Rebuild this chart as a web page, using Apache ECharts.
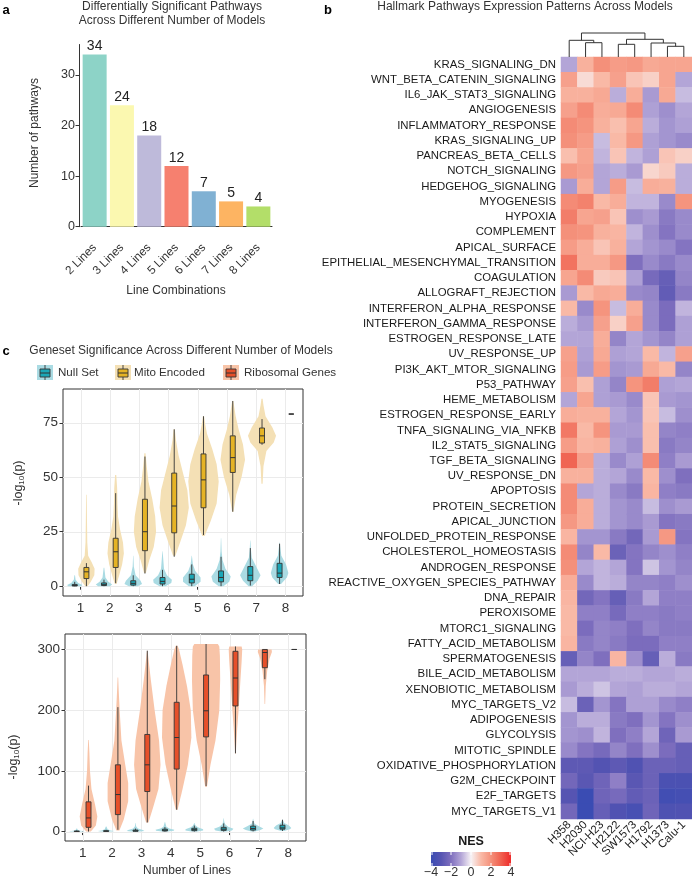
<!DOCTYPE html>
<html><head><meta charset="utf-8">
<script src="https://cdn.jsdelivr.net/npm/echarts@6/dist/echarts.min.js"></script>
<style>html,body{margin:0;padding:0;background:#fff}#c{width:692px;height:880px}</style>
</head><body><div id="c"></div>
<script>
const FONT = '"Liberation Sans", Arial, Helvetica, sans-serif';

// ---------- Panel a data ----------
const lineCombos = ['2 Lines','3 Lines','4 Lines','5 Lines','6 Lines','7 Lines','8 Lines'];
const pathwayCounts = [34, 24, 18, 12, 7, 5, 4];
const countTicks = [0, 10, 20, 30];
const comboColors = ['#8DD3C7','#FBF8B0','#BEBADA','#F6806F','#80B1D3','#FDB462','#B3DE69'];

// ---------- Panel b data ----------
const cellLines = ['H358','H2030','NCI-H23','H2122','SW1573','H1792','H1373','Calu-1'];
const pathways = ['KRAS_SIGNALING_DN','WNT_BETA_CATENIN_SIGNALING','IL6_JAK_STAT3_SIGNALING','ANGIOGENESIS',
 'INFLAMMATORY_RESPONSE','KRAS_SIGNALING_UP','PANCREAS_BETA_CELLS','NOTCH_SIGNALING','HEDGEHOG_SIGNALING',
 'MYOGENESIS','HYPOXIA','COMPLEMENT','APICAL_SURFACE','EPITHELIAL_MESENCHYMAL_TRANSITION','COAGULATION',
 'ALLOGRAFT_REJECTION','INTERFERON_ALPHA_RESPONSE','INTERFERON_GAMMA_RESPONSE','ESTROGEN_RESPONSE_LATE',
 'UV_RESPONSE_UP','PI3K_AKT_MTOR_SIGNALING','P53_PATHWAY','HEME_METABOLISM','ESTROGEN_RESPONSE_EARLY',
 'TNFA_SIGNALING_VIA_NFKB','IL2_STAT5_SIGNALING','TGF_BETA_SIGNALING','UV_RESPONSE_DN','APOPTOSIS',
 'PROTEIN_SECRETION','APICAL_JUNCTION','UNFOLDED_PROTEIN_RESPONSE','CHOLESTEROL_HOMEOSTASIS',
 'ANDROGEN_RESPONSE','REACTIVE_OXYGEN_SPECIES_PATHWAY','DNA_REPAIR','PEROXISOME','MTORC1_SIGNALING',
 'FATTY_ACID_METABOLISM','SPERMATOGENESIS','BILE_ACID_METABOLISM','XENOBIOTIC_METABOLISM','MYC_TARGETS_V2',
 'ADIPOGENESIS','GLYCOLYSIS','MITOTIC_SPINDLE','OXIDATIVE_PHOSPHORYLATION','G2M_CHECKPOINT','E2F_TARGETS',
 'MYC_TARGETS_V1'];
const nes = [
 [-1.0, 1.2, 2.0, 1.7, 1.8, 1.4, 1.5, 1.5],
 [ 1.6, 0.4, 1.0, 1.6, 0.8, 0.6, 1.5,-1.0],
 [ 1.2, 1.2, 1.4,-0.9, 1.3,-1.2, 1.4,-0.7],
 [ 1.6, 2.1, 1.3, 1.4, 2.1,-1.1,-1.4,-1.0],
 [ 2.1, 1.9, 1.2, 0.9, 1.5,-0.9,-1.3,-1.1],
 [ 2.0, 1.7,-0.7, 1.0, 1.8,-1.1,-1.3,-1.5],
 [ 0.9, 1.5,-0.8, 0.8,-0.8,-1.1, 0.8, 0.6],
 [ 1.8, 1.6,-1.0,-0.9,-1.2, 0.5, 0.7,-0.9],
 [-1.2, 1.3,-1.0, 1.7,-0.7, 1.3, 1.2,-0.9],
 [ 2.1, 2.3, 1.0, 1.3,-0.8,-0.8,-1.5, 1.9],
 [ 2.4, 1.5, 1.6, 0.8,-1.4,-1.2,-1.8,-1.5],
 [ 2.0, 1.9, 1.2, 1.1,-0.8,-1.4,-1.9,-1.5],
 [ 1.7, 1.3, 0.8, 1.2,-1.0,-1.3,-1.5,-1.9],
 [ 2.6, 1.3, 1.3, 1.8,-2.0,-1.5,-1.8,-1.5],
 [ 1.5, 2.1, 0.7, 0.8,-1.1,-2.2,-2.6,-1.6],
 [-1.2, 1.0, 1.4, 1.3,-1.5,-1.6,-2.7,-1.8],
 [ 1.0,-1.5, 1.9,-0.7, 1.3,-1.5,-2.1,-0.8],
 [-0.9,-1.2, 1.6, 0.6, 1.6,-1.5,-2.1,-1.1],
 [-1.0,-1.0, 1.3,-1.6,-1.0,-1.3,-1.6,-1.1],
 [ 1.6,-1.1, 1.4,-1.1,-1.0, 1.0,-0.8, 1.6],
 [ 1.7,-1.2, 1.7,-1.3,-1.2, 1.4, 1.0,-1.6],
 [ 1.6, 0.9,-1.1,-1.6, 1.9, 2.4,-1.1,-1.0],
 [-1.0, 1.5,-1.1,-1.2,-1.5, 0.8,-1.2,-1.3],
 [ 1.3, 1.2, 1.2,-1.0,-1.3, 0.8,-0.7,-1.4],
 [ 2.5, 1.0, 1.9,-1.2,-1.2, 0.9,-1.6,-1.7],
 [ 1.7, 1.1, 1.2,-1.1,-1.4, 0.9,-1.8,-1.6],
 [ 2.9, 1.6,-0.9,-1.5,-1.1, 2.1,-1.7,-1.2],
 [ 1.2, 1.2,-0.9,-1.0,-1.5, 1.0,-1.4,-2.0],
 [ 2.1,-1.0,-0.9,-1.5,-1.8, 1.1,-1.7,-1.8],
 [ 2.1, 1.3,-0.9,-1.3,-1.5,-0.7,-1.4,-1.2],
 [ 1.8, 1.3,-0.9,-1.3,-1.5,-1.2,-1.9,-1.8],
 [ 1.1,-1.3,-1.3,-1.8,-2.3,-1.2, 1.8,-1.9],
 [ 2.1,-1.6, 1.0,-2.5,-1.9,-1.6,-1.4,-1.7],
 [ 2.0,-1.0,-0.8,-1.0,-1.9,-0.6,-1.3,-1.6],
 [ 1.3,-1.5,-0.8,-0.9,-1.6,-1.6,-1.7,-1.4],
 [ 1.1,-2.3,-1.9,-2.6,-1.8,-1.0,-1.7,-1.7],
 [ 1.0,-1.7,-1.7,-2.2,-1.7,-1.7,-1.8,-1.7],
 [ 1.0,-2.1,-1.6,-1.7,-2.0,-1.6,-1.8,-1.8],
 [ 1.1,-1.8,-1.6,-1.8,-2.1,-2.1,-1.7,-1.7],
 [-2.6,-1.6,-2.0, 1.1,-1.4,-2.6,-0.9,-1.8],
 [-1.0,-1.0,-1.0,-0.9,-0.9,-1.0,-1.0,-0.9],
 [-1.2,-0.9,-0.6,-1.0,-1.1,-0.9,-0.9,-1.0],
 [-0.7,-2.5,-1.3,-1.9,-1.1,-1.1,-1.5,-1.7],
 [-1.3,-0.9,-0.9,-1.8,-2.0,-1.3,-1.9,-1.4],
 [-1.3,-1.4,-0.8,-2.0,-1.7,-1.0,-2.4,-1.2],
 [-1.5,-1.9,-2.2,-1.6,-2.0,-1.4,-2.1,-2.6],
 [-2.8,-2.8,-3.1,-2.8,-3.2,-2.5,-2.5,-2.6],
 [-2.3,-2.9,-2.4,-1.7,-2.9,-2.5,-3.4,-3.4],
 [-3.0,-4.0,-2.4,-2.2,-2.7,-2.5,-3.7,-3.6],
 [-2.3,-4.0,-2.6,-3.2,-3.5,-2.4,-3.3,-3.2]
];
// dendrogram links: [xLeft, hLeft, xRight, hRight, mergeHeight] (x in column units)
const dendroLinks = [
 [1.5, 0, 2.5, 0, 14.3],
 [0.5, 0, 2.0, 14.3, 16.7],
 [3.5, 0, 4.5, 0, 12.7],
 [6.5, 0, 7.5, 0, 10.7],
 [5.5, 0, 7.0, 10.7, 14.0],
 [4.0, 12.7, 6.25, 14.0, 17.7],
 [1.25, 16.7, 5.125, 17.7, 24.0]
];
const nesTicks = [-4, -2, 0, 2, 4];
const nesColors = ['#3A4CB3','#5654B2','#7F6FBE','#B3A5D7','#F7F2F5','#F9B9A6','#F4907A','#F0604F','#EE2A2A'];

// ---------- Panel c data ----------
const numLines = [1, 2, 3, 4, 5, 6, 7, 8];
const topTicks = [0, 25, 50, 75];
const bottomTicks = [0, 100, 200, 300];
// box stats: [lowerWhisker, q1, median, q3, upperWhisker]
const nullBox = [[0,0.1,0.3,0.8,2],[0,0.3,0.7,1.5,3],[0,0.5,1.3,2.5,5],[0,1,2.2,4,7.5],
 [0,1.5,3.2,5.5,10],[0,2,4,7,13.5],[0.3,2.5,5,9,17.5],[1,4,6,10.5,19.5]];
// violin profiles: [value, halfWidth]
const nullViolin = [
 [[0,0.22],[0.5,0.26],[1.5,0.12],[3,0.03],[5,0.01]],
 [[0,0.2],[0.8,0.28],[2,0.15],[4,0.05],[8.5,0.01]],
 [[0,0.15],[1,0.3],[2.5,0.25],[5,0.08],[9,0.02],[14,0.005]],
 [[0,0.1],[1.5,0.3],[3,0.32],[5,0.15],[8,0.05],[16,0.005]],
 [[0,0.1],[2,0.3],[4,0.3],[7,0.12],[10,0.04],[14,0.005]],
 [[0,0.08],[2,0.28],[4.5,0.33],[8,0.15],[12,0.05],[16,0.02],[22,0.005]],
 [[0,0.06],[2.5,0.25],[5,0.35],[9,0.2],[13,0.05],[17,0.02],[21,0.005]],
 [[1,0.05],[4,0.25],[6,0.3],[10,0.22],[14,0.06],[20,0.005]]
];
const mitoBox = [[0,3.5,6.6,8.6,10.6],[1.4,8.6,15.8,22,42.7],[5.8,16.3,25,39.9,59.5],[13.5,24.5,36.8,51.9,72],
 [23.5,36,48.8,60.7,78],[34.2,52.2,59,69,85],[64.9,65.7,69,72.6,76.7],[79,79,79,79,79]];
const mitoViolin = [
 [[0,0.04],[2,0.15],[5,0.27],[8,0.28],[11,0.18],[14,0.06],[20,0.03],[30,0.02],[42,0.01]],
 [[1,0.03],[5,0.12],[10,0.22],[15,0.28],[20,0.25],[26,0.15],[32,0.08],[38,0.06],[45,0.05],[51,0.02]],
 [[6,0.03],[12,0.15],[18,0.3],[25,0.38],[32,0.35],[40,0.25],[48,0.12],[55,0.06],[61,0.02]],
 [[14,0.04],[20,0.2],[28,0.4],[36,0.5],[44,0.45],[52,0.3],[60,0.15],[67,0.06],[72,0.02]],
 [[23,0.04],[30,0.25],[38,0.45],[48,0.52],[56,0.45],[63,0.3],[70,0.12],[75,0.05],[78,0.02]],
 [[34,0.02],[42,0.12],[50,0.3],[58,0.42],[65,0.35],[72,0.2],[78,0.1],[85,0.02]],
 [[47,0.02],[55,0.05],[62,0.15],[66,0.4],[69,0.48],[73,0.35],[78,0.12],[83,0.05],[86,0.02]],
 []
];
const riboBox = [[0,7,22.5,49,75.7],[3,28,61,110,205],[15,66,110,160,298],[36,103,155,213,306],
 [75,156,199,258,309],[129,207,253,297,305],[251,270,295,300,300],[300,300,300,300,300]];
const riboViolin = [
 [[0,0.08],[10,0.25],[25,0.3],[45,0.22],[70,0.1],[100,0.05],[130,0.03],[151,0.01]],
 [[2,0.05],[20,0.2],[50,0.35],[80,0.35],[110,0.25],[150,0.12],[200,0.06],[230,0.03],[254,0.01]],
 [[15,0.04],[40,0.2],[70,0.38],[110,0.45],[150,0.4],[200,0.25],[250,0.12],[280,0.05],[298,0.01]],
 [[36,0.03],[70,0.2],[110,0.38],[155,0.5],[200,0.48],[240,0.35],[275,0.2],[300,0.08],[306,0.03]],
 [[74,0.03],[110,0.15],[150,0.32],[200,0.45],[250,0.48],[290,0.47],[305,0.45],[309,0.4]],
 [[128,0.01],[170,0.06],[210,0.12],[250,0.17],[280,0.21],[300,0.23],[305,0.21]],
 [[210,0.01],[240,0.03],[265,0.08],[285,0.16],[296,0.24],[300,0.23]],
 []
];

// ---------- chart ----------
const chart = echarts.init(document.getElementById('c'), null, {renderer: 'canvas', width: 692, height: 880});
const TXT = '#1a1a1a';

function violinSeries(gi, profiles, boxes, dodge, fill, boxFill) {
  return {
    type: 'custom', xAxisIndex: gi, yAxisIndex: gi, z: 3, silent: true,
    data: numLines.map((n, i) => [n, i]),
    renderItem(params, api) {
      const i = params.dataIndex;
      const cx = numLines[i] + dodge;
      const prof = profiles[i], b = boxes[i];
      const ch = [];
      if (prof && prof.length) {
        const right = prof.map(p => api.coord([cx + p[1], p[0]]));
        const left = prof.slice().reverse().map(p => api.coord([cx - p[1], p[0]]));
        ch.push({type: 'polygon', shape: {points: right.concat(left)}, style: {fill: fill}});
      }
      const bw = 0.085;
      const c = v => api.coord([cx, v]);
      const pMin = c(b[0]), pQ1 = c(b[1]), pMed = c(b[2]), pQ3 = c(b[3]), pMax = c(b[4]);
      const xl = api.coord([cx - bw, 0])[0], xr = api.coord([cx + bw, 0])[0];
      const ls = {stroke: '#333', lineWidth: 0.9};
      ch.push({type: 'line', shape: {x1: pMin[0], y1: pMin[1], x2: pQ1[0], y2: pQ1[1]}, style: ls});
      ch.push({type: 'line', shape: {x1: pQ3[0], y1: pQ3[1], x2: pMax[0], y2: pMax[1]}, style: ls});
      ch.push({type: 'rect', shape: {x: xl, y: pQ3[1], width: xr - xl, height: pQ1[1] - pQ3[1]},
        style: {fill: boxFill, stroke: '#333', lineWidth: 0.9}});
      ch.push({type: 'line', shape: {x1: xl, y1: pMed[1], x2: xr, y2: pMed[1]}, style: {stroke: '#333', lineWidth: 1}});
      return {type: 'group', children: ch};
    }
  };
}

function gridLineSeries(gi, yTicks) {
  const items = numLines.map(v => ['x', v]).concat(yTicks.map(v => ['y', v]));
  return {
    type: 'custom', xAxisIndex: gi, yAxisIndex: gi, z: 1, silent: true,
    data: items.map(() => [1, 0]),
    renderItem(params, api) {
      const d = items[params.dataIndex];
      const cs = params.coordSys;
      const st = {stroke: '#ebebeb', lineWidth: 1};
      if (d[0] === 'x') {
        const x = Math.round(api.coord([d[1], 0])[0]) + 0.5;
        return {type: 'line', shape: {x1: x, y1: cs.y, x2: x, y2: cs.y + cs.height}, style: st};
      }
      const y = Math.round(api.coord([1, d[1]])[1]) + 0.5;
      return {type: 'line', shape: {x1: cs.x, y1: y, x2: cs.x + cs.width, y2: y}, style: st};
    }
  };
}

const heatData = [];
nes.forEach((row, r) => row.forEach((v, c) => heatData.push([c, r, v])));

const cAxisLabel = {fontSize: 13.5, color: '#333', fontFamily: FONT};
function cXAxis(gi) {
  return {gridIndex: gi, type: 'value', min: 0.4, max: 8.6,
    axisLine: {show: false}, splitLine: {show: false},
    axisTick: {show: true, customValues: numLines, length: 3.5, lineStyle: {color: '#333'}},
    axisLabel: Object.assign({customValues: numLines, margin: 5}, cAxisLabel)};
}
function cYAxis(gi, min, max, ticks) {
  return {gridIndex: gi, type: 'value', min: min, max: max,
    axisLine: {show: false}, splitLine: {show: false},
    axisTick: {show: true, customValues: ticks, length: 3.5, lineStyle: {color: '#333'}},
    axisLabel: Object.assign({customValues: ticks, margin: 5}, cAxisLabel)};
}

function legendKey(x, fill, boxFill) {
  return [
    {type: 'rect', shape: {x: x, y: 365, width: 16, height: 15}, style: {fill: fill}},
    {type: 'line', shape: {x1: x + 8, y1: 365, x2: x + 8, y2: 380}, style: {stroke: '#333', lineWidth: 0.9}},
    {type: 'rect', shape: {x: x + 3, y: 369, width: 10, height: 8}, style: {fill: boxFill, stroke: '#333', lineWidth: 0.9}},
    {type: 'line', shape: {x1: x + 3, y1: 373, x2: x + 13, y2: 373}, style: {stroke: '#333', lineWidth: 1}}
  ];
}

function txt(x, y, text, size, opts) {
  return Object.assign({type: 'text', x: x, y: y, style: Object.assign({text: text, fontSize: size, fontFamily: FONT,
    fill: TXT, align: 'center', verticalAlign: 'middle'}, (opts && opts.style) || {})}, opts && opts.el || {});
}

// colorbar graphic
const cbX = 431, cbW = 80, cbY = 852, cbH = 14;
const cbStops = nesColors.map((col, i) => ({offset: i / (nesColors.length - 1), color: col}));
const cbGraphics = [
  txt(471, 842, 'NES', 12.5, {style: {fontWeight: 'bold'}}),
  {type: 'rect', shape: {x: cbX, y: cbY, width: cbW, height: cbH},
    style: {fill: new echarts.graphic.LinearGradient(0, 0, 1, 0, cbStops)}}
];
nesTicks.forEach(t => {
  const x = cbX + (t + 4) / 8 * cbW;
  const xx = Math.min(Math.max(x, cbX + 1), cbX + cbW - 1);
  cbGraphics.push({type: 'line', shape: {x1: xx, y1: cbY, x2: xx, y2: cbY + 3}, style: {stroke: '#fff', lineWidth: 1}});
  cbGraphics.push({type: 'line', shape: {x1: xx, y1: cbY + cbH - 3, x2: xx, y2: cbY + cbH}, style: {stroke: '#fff', lineWidth: 1}});
  cbGraphics.push(txt(x, 873, (t < 0 ? '\u2212' : '') + Math.abs(t), 12.5, {style: {fill: '#333'}}));
});

const option = {
  animation: false,
  backgroundColor: '#fff',
  textStyle: {fontFamily: FONT},
  grid: [
    {left: 81, top: 44.5, width: 191, height: 182.2},
    {left: 63, top: 389, width: 240, height: 207, show: true, borderColor: '#333', borderWidth: 1, backgroundColor: 'transparent'},
    {left: 65, top: 634, width: 241, height: 207, show: true, borderColor: '#333', borderWidth: 1, backgroundColor: 'transparent'},
    {left: 561, top: 57, width: 131, height: 762},
    {left: 561, top: 30, width: 131, height: 27}
  ],
  xAxis: [
    {gridIndex: 0, type: 'category', data: lineCombos, offset: 9,
      axisLine: {lineStyle: {color: '#333', width: 1}},
      axisTick: {alignWithLabel: true, length: 3.5, lineStyle: {color: '#333'}},
      axisLabel: {rotate: 45, fontSize: 11.8, color: '#333', margin: 10, fontFamily: FONT, interval: 0}},
    cXAxis(1),
    cXAxis(2),
    {gridIndex: 3, type: 'category', data: cellLines, axisLine: {show: false}, axisTick: {show: false},
      splitLine: {show: false},
      axisLabel: {rotate: 45, fontSize: 11.4, color: TXT, margin: 4, interval: 0, fontFamily: FONT}},
    {gridIndex: 4, type: 'value', min: 0, max: 8, show: false}
  ],
  yAxis: [
    {gridIndex: 0, type: 'value', min: 0, max: 36, offset: 2,
      axisLine: {show: true, lineStyle: {color: '#333', width: 1}},
      axisTick: {show: true, customValues: countTicks, length: 3.5, lineStyle: {color: '#333'}},
      splitLine: {show: false},
      axisLabel: {customValues: countTicks, fontSize: 12.5, color: '#333', margin: 4, fontFamily: FONT}},
    cYAxis(1, -4.5, 90.5, topTicks),
    cYAxis(2, -15.5, 325.5, bottomTicks),
    {gridIndex: 3, type: 'category', data: pathways, inverse: true, axisLine: {show: false}, axisTick: {show: false},
      splitLine: {show: false},
      axisLabel: {fontSize: 11.4, color: TXT, margin: 5, interval: 0, fontFamily: FONT}},
    {gridIndex: 4, type: 'value', min: 0, max: 27, show: false}
  ],
  visualMap: {type: 'continuous', min: -4, max: 4, show: false, seriesIndex: 1,
    inRange: {color: nesColors}},
  series: [
    {type: 'bar', xAxisIndex: 0, yAxisIndex: 0, barWidth: 24,
      data: pathwayCounts.map((v, i) => ({value: v, itemStyle: {color: comboColors[i]}})),
      label: {show: true, position: 'top', distance: 1, fontSize: 14, color: '#222', fontFamily: FONT}},
    {type: 'heatmap', xAxisIndex: 3, yAxisIndex: 3, data: heatData, itemStyle: {borderWidth: 0},
      emphasis: {disabled: true}, progressive: 0},
    {type: 'custom', xAxisIndex: 4, yAxisIndex: 4, silent: true,
      data: dendroLinks.map((d, i) => [d[0], d[4]]),
      renderItem(params, api) {
        const d = dendroLinks[params.dataIndex];
        const p1 = api.coord([d[0], d[1]]), p2 = api.coord([d[0], d[4]]),
              p3 = api.coord([d[2], d[4]]), p4 = api.coord([d[2], d[3]]);
        return {type: 'polyline', shape: {points: [p1, p2, p3, p4]}, style: {stroke: '#333', lineWidth: 1, fill: null}};
      }},
    gridLineSeries(1, topTicks),
    gridLineSeries(2, bottomTicks),
    violinSeries(1, nullViolin, nullBox, -0.2, '#AADBE3', '#1BA7B7'),
    violinSeries(1, mitoViolin, mitoBox, 0.2, '#F4E0B5', '#E5B325'),
    violinSeries(2, nullViolin, nullBox, -0.2, '#AADBE3', '#1BA7B7'),
    violinSeries(2, riboViolin, riboBox, 0.2, '#F8C4A8', '#E6502A')
  ],
  graphic: [
    txt(6, 10, 'a', 13, {style: {fontWeight: 'bold', fill: '#000'}}),
    txt(328, 10, 'b', 13, {style: {fontWeight: 'bold', fill: '#000'}}),
    txt(6, 351, 'c', 13, {style: {fontWeight: 'bold', fill: '#000'}}),
    txt(172, 7, 'Differentially Significant Pathways', 12, {style: {fill: '#333'}}),
    txt(172, 21, 'Across Different Number of Models', 12, {style: {fill: '#333'}}),
    txt(35, 133, 'Number of pathways', 12, {style: {fill: '#333'}, el: {rotation: Math.PI / 2}}),
    txt(176, 291, 'Line Combinations', 12, {style: {fill: '#333'}}),
    txt(525, 7, 'Hallmark Pathways Expression Patterns Across Models', 12, {style: {fill: '#333'}}),
    txt(181, 351, 'Geneset Significance Across Different Number of Models', 12, {style: {fill: '#333'}}),
    ...legendKey(37, '#AADBE3', '#1BA7B7'),
    txt(58, 373, 'Null Set', 11.6, {style: {align: 'left', fill: '#333'}}),
    ...legendKey(115, '#F4E0B5', '#E5B325'),
    txt(134, 373, 'Mito Encoded', 11.6, {style: {align: 'left', fill: '#333'}}),
    ...legendKey(223, '#F8C4A8', '#E6502A'),
    txt(244, 373, 'Ribosomal Genes', 11.6, {style: {align: 'left', fill: '#333'}}),
    txt(19, 483, '-log{s|10}(p)', 12.5, {style: {fill: '#333', rich: {s: {fontSize: 8, fill: '#333', padding: [6, 0, 0, 0]}}}, el: {rotation: Math.PI / 2}}),
    txt(14, 757, '-log{s|10}(p)', 12.5, {style: {fill: '#333', rich: {s: {fontSize: 8, fill: '#333', padding: [6, 0, 0, 0]}}}, el: {rotation: Math.PI / 2}}),
    txt(187, 871, 'Number of Lines', 12, {style: {fill: '#333'}}),
    ...cbGraphics
  ]
};
chart.setOption(option);
</script>
</body></html>
